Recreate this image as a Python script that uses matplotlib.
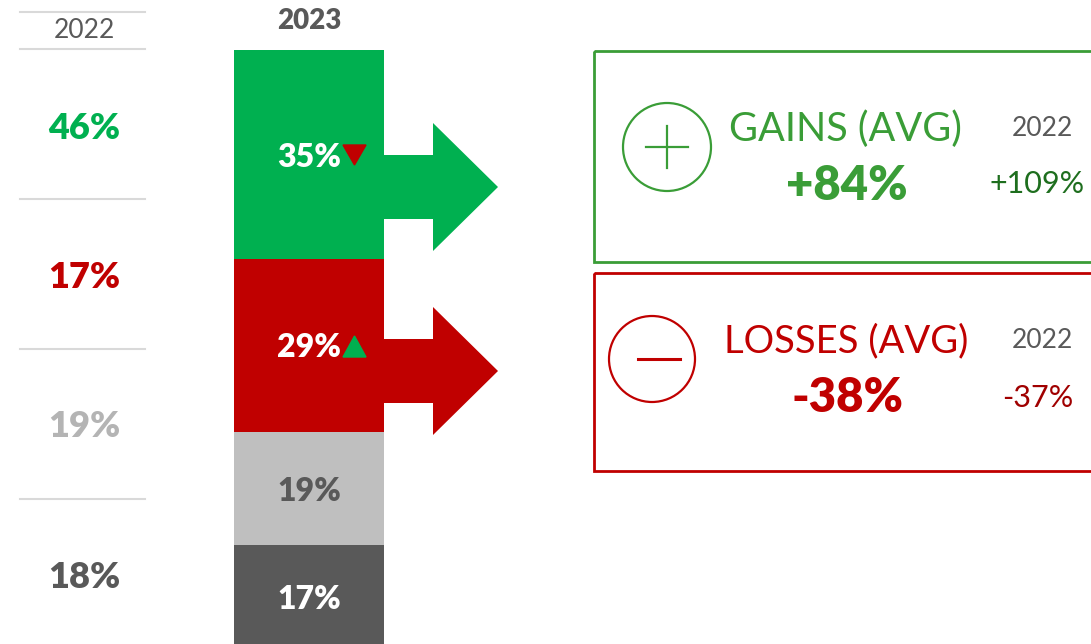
import matplotlib
matplotlib.use('Agg')
import matplotlib.pyplot as plt
from matplotlib.patches import Polygon, Rectangle, Circle

plt.rcParams['font.family'] = ['Lato', 'DejaVu Sans']

# data
labels_2022 = ['46%', '17%', '19%', '18%']
values_2023 = [35, 29, 19, 17]
labels_2023 = ['35%', '29%', '19%', '17%']
seg_colors = ['#00b050', '#c00000', '#bfbfbf', '#595959']
label_colors_2023 = ['white', 'white', '#595959', 'white']
colors_2022 = ['#00b050', '#c00000', '#b4b4b4', '#595959']
trend = ['down', 'up', None, None]

gains_avg = '+84%'
gains_2022 = '+109%'
losses_avg = '-38%'
losses_2022 = '-37%'

GREEN = '#00b050'
RED = '#c00000'
BOX_GREEN = '#3a9d37'
GRAY = '#595959'

fig = plt.figure(figsize=(10.91, 6.44), dpi=100)
ax = fig.add_axes([0, 0, 1, 1])
ax.set_xlim(0, 1091)
ax.set_ylim(644, 0)
ax.axis('off')

# left column (2022)
for y in [12, 49, 199, 349, 499]:
    ax.plot([20, 145], [y, y], color='#d9d9d9', lw=1.5)
ax.text(84, 30, '2022', ha='center', va='center', fontsize=19, color=GRAY)
for lab, c, y in zip(labels_2022, colors_2022, [128, 277, 426, 577]):
    ax.text(84, y, lab, ha='center', va='center', fontsize=26, fontweight='heavy', color=c)

# stacked bar (2023)
top = 50
scale = (432 - 50) / (values_2023[0] + values_2023[1])
ax.text(309, 21, '2023', ha='center', va='center', fontsize=20, fontweight='heavy', color=GRAY)
bottom = top
for v, c, lab, lc, t in zip(values_2023, seg_colors, labels_2023, label_colors_2023, trend):
    h = v * scale
    ax.bar(309, h, width=150, bottom=bottom, color=c, edgecolor='none')
    if t is None:
        ax.text(309, bottom + h / 2 + 3, lab, ha='center', va='center',
                fontsize=23, fontweight='heavy', color=lc)
    bottom += h

# labels with trend triangles for green and red segments
ax.text(341, 157, labels_2023[0], ha='right', va='center', fontsize=23, fontweight='heavy', color='white')
ax.add_patch(Polygon([[343, 145], [366, 145], [354.5, 165]], closed=True, color=RED))
ax.text(341, 347, labels_2023[1], ha='right', va='center', fontsize=23, fontweight='heavy', color='white')
ax.add_patch(Polygon([[343, 357], [366, 357], [354.5, 336]], closed=True, color=GREEN))

# arrows
def arrow(yc, color):
    pts = [[384, yc - 32], [433, yc - 32], [433, yc - 64], [498, yc], [433, yc + 64],
           [433, yc + 32], [384, yc + 32]]
    ax.add_patch(Polygon(pts, closed=True, color=color, lw=0))

arrow(187, GREEN)
arrow(371, RED)

# gains box
ax.add_patch(Rectangle((594, 51), 520, 211, fill=False, edgecolor=BOX_GREEN, lw=2))
ax.add_patch(Circle((667, 147), 44, fill=False, edgecolor=BOX_GREEN, lw=1.6))
ax.plot([646, 688], [147, 147], color=BOX_GREEN, lw=1.6)
ax.plot([667, 667], [126, 168], color=BOX_GREEN, lw=1.6)
ax.text(845, 129, 'GAINS (AVG)', ha='center', va='center', fontsize=28.5, color=BOX_GREEN)
ax.text(847, 186, gains_avg, ha='center', va='center', fontsize=34, fontweight='heavy', color=BOX_GREEN)
ax.text(1042, 128, '2022', ha='center', va='center', fontsize=19, color=GRAY)
ax.text(1037, 184, gains_2022, ha='center', va='center', fontsize=22, color='#1e6e1e')

# losses box
ax.add_patch(Rectangle((594, 273), 520, 198, fill=False, edgecolor=RED, lw=2))
ax.add_patch(Circle((652, 359), 43, fill=False, edgecolor=RED, lw=1.6))
ax.plot([638, 680], [359, 359], color=RED, lw=2.2)
ax.text(846, 341, 'LOSSES (AVG)', ha='center', va='center', fontsize=27.5, color=RED)
ax.text(848, 398, losses_avg, ha='center', va='center', fontsize=34, fontweight='heavy', color=RED)
ax.text(1042, 340, '2022', ha='center', va='center', fontsize=19, color=GRAY)
ax.text(1038, 398, losses_2022, ha='center', va='center', fontsize=22, color='#a00000')

fig.savefig('out.png', dpi=100)
